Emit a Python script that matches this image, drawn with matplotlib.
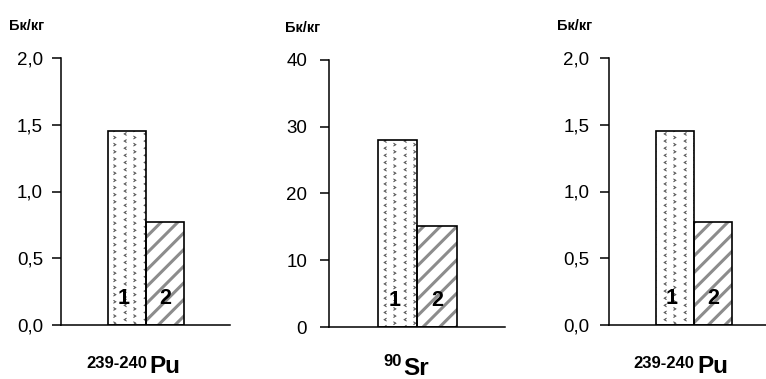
import warnings
import numpy as np
import matplotlib
matplotlib.use('Agg')
import matplotlib.pyplot as plt
import matplotlib.hatch as mhatch
import matplotlib.transforms as mtransforms
from matplotlib.path import Path

warnings.filterwarnings('ignore')
plt.rcParams['font.family'] = ['Liberation Sans', 'DejaVu Sans']

# data
bar_labels = ['1', '2']
pu_values = [1.45, 0.77]
sr_values = [28.0, 15.2]
pu_ticks = [0.0, 0.5, 1.0, 1.5, 2.0]
sr_ticks = [0, 10, 20, 30, 40]
pu_ticklabels = ['0,0', '0,5', '1,0', '1,5', '2,0']
sr_ticklabels = ['0', '10', '20', '30', '40']
unit = 'Бк/кг'


# small "<" ">" marks for the first bar
class Chevrons(mhatch.HatchPatternBase):
    def __init__(self, hatch, density):
        n = hatch.count('v')
        self.cols = 10 * n
        self.rows = 14 * n
        self.num_vertices = self.cols * self.rows * 7

    def set_vertices_and_codes(self, vertices, codes):
        shape = np.array([[-1.3, 0], [1.3, 1.6], [1.3, 0.9], [0.0, 0],
                          [1.3, -0.9], [1.3, -1.6], [-1.3, 0]]) / 100.0
        k = 0
        for i in range(self.cols):
            for j in range(self.rows):
                s = shape.copy()
                if i % 2:
                    s[:, 0] *= -1
                s[:, 0] += (i + 0.5) / self.cols
                s[:, 1] += (j + 0.25 + 0.5 * (i % 2)) / self.rows
                vertices[k:k + 7] = s
                codes[k] = Path.MOVETO
                codes[k + 1:k + 6] = Path.LINETO
                codes[k + 6] = Path.CLOSEPOLY
                k += 7


mhatch._hatch_types.append(Chevrons)

panels = [
    dict(values=pu_values, ymax=2.0, ticks=pu_ticks, ticklabels=pu_ticklabels,
         sup='239-240', elem='Pu', left=61, top=58, width=169, pad=6.5,
         unit_dx=-52, lab_x=0.57, sup_y=-0.162, elem_y=-0.18),
    dict(values=sr_values, ymax=40, ticks=sr_ticks, ticklabels=sr_ticklabels,
         sup='90', elem='Sr', left=328.7, top=60, width=176, pad=9.0,
         unit_dx=-44, lab_x=0.13, sup_y=-0.146, elem_y=-0.18),
    dict(values=pu_values, ymax=2.0, ticks=pu_ticks, ticklabels=pu_ticklabels,
         sup='239-240', elem='Pu', left=609, top=58, width=169, pad=7.5,
         unit_dx=-52, lab_x=0.55, sup_y=-0.162, elem_y=-0.18),
]

W, H = 766, 379
fig = plt.figure(figsize=(W / 100, H / 100), dpi=100)
x = np.arange(len(bar_labels))

for p in panels:
    ax = fig.add_axes([p['left'] / W, 1 - (p['top'] + 267) / H,
                       p['width'] / W, 267 / H])
    vals = p['values']

    with plt.rc_context({'hatch.linewidth': 0.3}):
        b1 = ax.bar(x[0], vals[0], width=1, color='white', edgecolor='#505050',
                    linewidth=0, hatch='v')
    with plt.rc_context({'hatch.linewidth': 2.2}):
        b2 = ax.bar(x[1], vals[1], width=1, color='white', edgecolor='#8c8c8c',
                    linewidth=0, hatch='//')
    for bars, hlw in ((b1, 0.3), (b2, 2.2)):
        for r in bars:
            try:
                r.set_hatch_linewidth(hlw)
            except AttributeError:
                pass
    ax.bar(x, vals, width=1, fill=False, edgecolor='black', linewidth=1.2)

    ax.set_xlim(-1.74, 2.72)
    ax.set_ylim(0, p['ymax'])
    ax.set_xticks([])
    ax.set_yticks(p['ticks'])
    ax.set_yticklabels(p['ticklabels'])
    ax.tick_params(axis='y', direction='out', length=6.5, width=1.1,
                   labelsize=13.5, pad=p['pad'])
    for side in ('top', 'right'):
        ax.spines[side].set_visible(False)
    for side in ('left', 'bottom'):
        ax.spines[side].set_linewidth(1.1)

    trans = mtransforms.blended_transform_factory(ax.transData, ax.transAxes)
    for xi, lab, dx in zip(x, bar_labels, (-0.08, 0.0)):
        ax.text(xi + dx, 0.078, lab, transform=trans, ha='center',
                va='baseline', fontsize=15.5, fontweight='bold')

    ax.annotate(unit, xy=(0, 1), xycoords='axes fraction',
                xytext=(p['unit_dx'], 28), textcoords='offset pixels',
                ha='left', va='baseline', fontsize=10.5, fontweight='bold',
                annotation_clip=False)

    ax.text(p['lab_x'] - 0.03, p['sup_y'], p['sup'], transform=trans,
            ha='right', va='baseline', fontsize=12, fontweight='bold',
            clip_on=False)
    ax.text(p['lab_x'] + 0.03, p['elem_y'], p['elem'], transform=trans,
            ha='left', va='baseline', fontsize=17.5, fontweight='bold',
            clip_on=False)

fig.savefig('out.png', dpi=100)
